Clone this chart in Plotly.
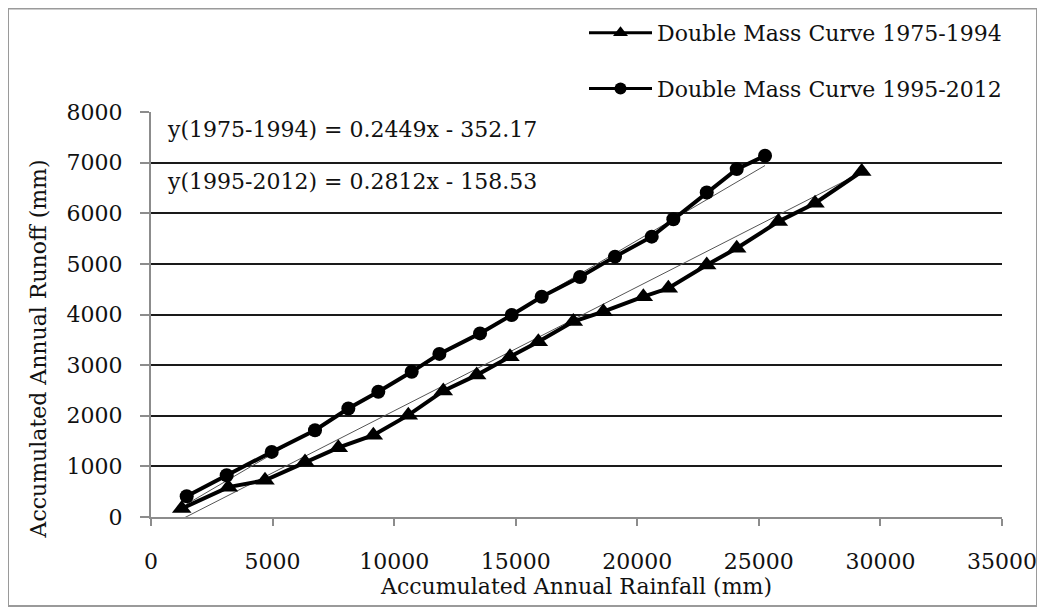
import plotly.graph_objects as go

# ---- data ----
rain_1975_1994 = [1263, 3180, 4689, 6334, 7705, 9144, 10583, 12022, 13395, 14765,
                  15930, 17370, 18604, 20249, 21277, 22856, 24090, 25801, 27310, 29231]
runoff_1975_1994 = [166, 590, 726, 1088, 1370, 1616, 2012, 2490, 2803, 3165,
                    3462, 3860, 4055, 4352, 4518, 4979, 5309, 5835, 6199, 6824]

rain_1995_2012 = [1468, 3113, 4964, 6745, 8116, 9349, 10722, 11860, 13532, 14836,
                  16069, 17645, 19084, 20594, 21483, 22856, 24090, 25254]
runoff_1995_2012 = [410, 825, 1286, 1715, 2144, 2473, 2868, 3222, 3627, 3990,
                    4352, 4741, 5143, 5538, 5882, 6409, 6872, 7135]

# trendline coefficients (as printed on the chart)
slope_1, intercept_1 = 0.2449, -352.17
slope_2, intercept_2 = 0.2812, -158.53

name_1 = "Double Mass Curve 1975-1994"
name_2 = "Double Mass Curve 1995-2012"
eq_1 = "y(1975-1994) = 0.2449x - 352.17"
eq_2 = "y(1995-2012) = 0.2812x - 158.53"

x_ticks = [0, 5000, 10000, 15000, 20000, 25000, 30000, 35000]
y_ticks = [0, 1000, 2000, 3000, 4000, 5000, 6000, 7000, 8000]

FONT = "DejaVu Serif"
FS = 22
TXT = "#111111"

fig = go.Figure()

# trendlines (thin)
tx1 = [rain_1975_1994[0], rain_1975_1994[-1]]
ty1 = [slope_1 * v + intercept_1 for v in tx1]
tx2 = [rain_1995_2012[0], rain_1995_2012[-1]]
ty2 = [slope_2 * v + intercept_2 for v in tx2]
fig.add_trace(go.Scatter(x=tx1, y=ty1, mode="lines", showlegend=False,
                         line=dict(color="#555555", width=1), hoverinfo="skip"))
fig.add_trace(go.Scatter(x=tx2, y=ty2, mode="lines", showlegend=False,
                         line=dict(color="#555555", width=1), hoverinfo="skip"))

fig.add_trace(go.Scatter(
    x=rain_1975_1994, y=runoff_1975_1994, mode="lines+markers", name=name_1,
    showlegend=False,
    line=dict(color="black", width=4),
    marker=dict(symbol="triangle-up", size=17, color="black"),
))
fig.add_trace(go.Scatter(
    x=rain_1995_2012, y=runoff_1995_2012, mode="lines+markers", name=name_2,
    showlegend=False,
    line=dict(color="black", width=4),
    marker=dict(symbol="circle", size=14, color="black"),
))

# legend-only entries (smaller symbols, as in the reference legend)
fig.add_trace(go.Scatter(
    x=[None], y=[None], mode="lines+markers", name=name_1, legendgroup="a",
    line=dict(color="black", width=3),
    marker=dict(symbol="triangle-up", size=13, color="black"),
))
fig.add_trace(go.Scatter(
    x=[None], y=[None], mode="lines+markers", name=name_2, legendgroup="b",
    line=dict(color="black", width=3),
    marker=dict(symbol="circle", size=12, color="black"),
))

# the page adds an 8px body margin; work in reference page pixels
OFF = 8
W, H = 1029, 599
L, R, T, B = 151 - OFF, 1002 - OFF, 112 - OFF, 517 - OFF
pw, ph = R - L, B - T


def px_x(p):
    return (p - OFF - L) / pw


def px_y(p):
    return (B - (p - OFF)) / ph


def cx(p):
    return (p - OFF) / W


def cy(p):
    return 1 - (p - OFF) / H


fig.update_layout(
    width=W, height=H,
    margin=dict(l=L, r=W - R, t=T, b=H - B, pad=0, autoexpand=False),
    paper_bgcolor="white", plot_bgcolor="white",
    font=dict(family=FONT, size=FS, color=TXT),
    showlegend=True,
    legend=dict(xref="container", yref="container", x=cx(584), y=cy(12),
                xanchor="left", yanchor="top",
                bgcolor="rgba(0,0,0,0)", font=dict(family=FONT, size=FS, color=TXT),
                itemwidth=63, tracegroupgap=24, traceorder="grouped"),
    xaxis=dict(range=[0, 35000], tickvals=x_ticks, ticktext=[str(v) for v in x_ticks],
               showgrid=False, zeroline=False, showline=True, linecolor="#8c8c8c",
               linewidth=2, ticks="outside", ticklen=7, tickwidth=1.5, tickcolor="#8c8c8c",
               ticklabelstandoff=17,
               tickfont=dict(family=FONT, size=FS, color=TXT),
               title=dict(text="Accumulated Annual Rainfall (mm)", standoff=0,
                          font=dict(family=FONT, size=FS, color=TXT))),
    yaxis=dict(range=[0, 8000], tickvals=y_ticks, ticktext=[str(v) for v in y_ticks],
               showgrid=True, gridcolor="#1a1a1a", gridwidth=1.6,
               zeroline=False, showline=True, linecolor="#8c8c8c", linewidth=2,
               ticks="outside", ticklen=9, tickwidth=1.5, tickcolor="#8c8c8c",
               ticklabelstandoff=13,
               tickfont=dict(family=FONT, size=FS, color=TXT)),
    annotations=[
        dict(text=eq_1, xref="paper", yref="paper", x=px_x(165), y=px_y(130),
             xanchor="left", yanchor="middle", showarrow=False,
             font=dict(family=FONT, size=FS, color=TXT)),
        dict(text=eq_2, xref="paper", yref="paper", x=px_x(165), y=px_y(181),
             xanchor="left", yanchor="middle", showarrow=False,
             font=dict(family=FONT, size=FS, color=TXT)),
        dict(text="Accumulated Annual Runoff (mm)", xref="paper", yref="paper",
             x=px_x(37.5), y=px_y(349), xanchor="center", yanchor="middle",
             textangle=-90, showarrow=False,
             font=dict(family=FONT, size=FS, color=TXT)),
    ],
    shapes=[
        dict(type="rect", xref="paper", yref="paper",
             x0=px_x(8), x1=px_x(1037), y0=px_y(606), y1=px_y(8.5),
             line=dict(color="#9a9a9a", width=2), fillcolor="rgba(0,0,0,0)",
             layer="below"),
    ],
)

fig.write_html("out.html")
